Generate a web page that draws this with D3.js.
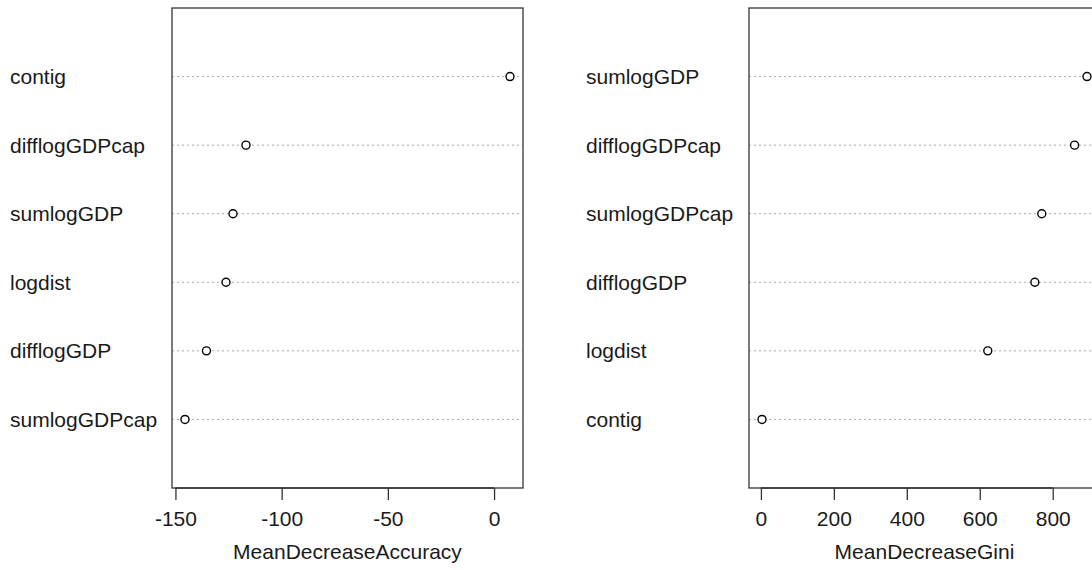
<!DOCTYPE html>
<html>
<head>
<meta charset="utf-8">
<script src="https://cdn.jsdelivr.net/npm/d3@7"></script>
<style>
  body { margin: 0; background: #fff; }
  text { font-family: "Liberation Sans", Arial, sans-serif; fill: #1a1a1a; }
</style>
</head>
<body>
<script>
// variable importance (bottom row first, like R dotchart)
let accNames = ["sumlogGDPcap", "difflogGDP", "logdist", "sumlogGDP", "difflogGDPcap", "contig"];
let accValues = [-145.5, -135.4, -126.2, -122.9, -116.8, 7.5];
let accTicks = [-150, -100, -50, 0];

let giniNames = ["contig", "logdist", "difflogGDP", "sumlogGDPcap", "difflogGDPcap", "sumlogGDP"];
let giniValues = [3, 622, 751, 770, 860, 894];
let giniTicks = [0, 200, 400, 600, 800];

let width = 1092;
let height = 570;

let svg = d3.select("body")
    .append("svg")
    .attr("width", width)
    .attr("height", height);

function panel(names, values, ticks, title, labelX, boxLeft) {
    let boxW = 351;
    let top = 8;
    let bottom = 488;

    // R pads the x range by 4% on each side
    let ext = d3.extent(values);
    let pad = (ext[1] - ext[0]) * 0.04;
    let scaleX = d3.scaleLinear()
        .domain([ext[0] - pad, ext[1] + pad])
        .range([boxLeft, boxLeft + boxW]);
    let scaleY = d3.scaleLinear()
        .domain([0, names.length + 1])
        .range([bottom, top]);

    let g = svg.append("g");

    // dotted guide lines
    g.selectAll("line.guide")
        .data(values)
        .enter()
        .append("line")
        .attr("x1", boxLeft)
        .attr("x2", boxLeft + boxW)
        .attr("y1", (d, i) => scaleY(i + 1))
        .attr("y2", (d, i) => scaleY(i + 1))
        .attr("stroke", "#aaa")
        .attr("stroke-width", 1)
        .attr("stroke-dasharray", "2,3");

    // points
    g.selectAll("circle")
        .data(values)
        .enter()
        .append("circle")
        .attr("cx", d => scaleX(d))
        .attr("cy", (d, i) => scaleY(i + 1))
        .attr("r", 4)
        .attr("fill", "#fff")
        .attr("stroke", "#000")
        .attr("stroke-width", 1.4);

    // row labels
    g.selectAll("text.lab")
        .data(names)
        .enter()
        .append("text")
        .attr("x", labelX)
        .attr("y", (d, i) => scaleY(i + 1))
        .attr("dominant-baseline", "central")
        .style("font-size", "21px")
        .text(d => d);

    // box
    g.append("rect")
        .attr("x", boxLeft)
        .attr("y", top)
        .attr("width", boxW)
        .attr("height", bottom - top)
        .attr("fill", "none")
        .attr("stroke", "#333")
        .attr("stroke-width", 1.3);

    // x axis
    let axisX = d3.axisBottom(scaleX)
        .tickValues(ticks)
        .tickSize(12)
        .tickPadding(11)
        .tickFormat(d3.format("d"));
    let ax = svg.append("g")
        .attr("transform", `translate(0, ${bottom})`)
        .call(axisX);
    ax.select(".domain")
        .attr("d", `M${scaleX(ticks[0])},0H${scaleX(ticks[ticks.length - 1])}`)
        .attr("stroke", "#333")
        .attr("stroke-width", 1.3);
    ax.selectAll(".tick line").attr("stroke", "#333").attr("stroke-width", 1.3);
    ax.selectAll(".tick text")
        .style("font-size", "21px")
        .style("font-family", "'Liberation Sans', Arial, sans-serif")
        .attr("fill", "#1a1a1a")
        .text(d => String(d).replace("−", "-"));

    svg.append("text")
        .attr("x", boxLeft + boxW / 2)
        .attr("y", 551)
        .attr("text-anchor", "middle")
        .attr("dominant-baseline", "central")
        .style("font-size", "21px")
        .text(title);
}

panel(accNames, accValues, accTicks, "MeanDecreaseAccuracy", 10, 172);
panel(giniNames, giniValues, giniTicks, "MeanDecreaseGini", 586, 749);
</script>
</body>
</html>
